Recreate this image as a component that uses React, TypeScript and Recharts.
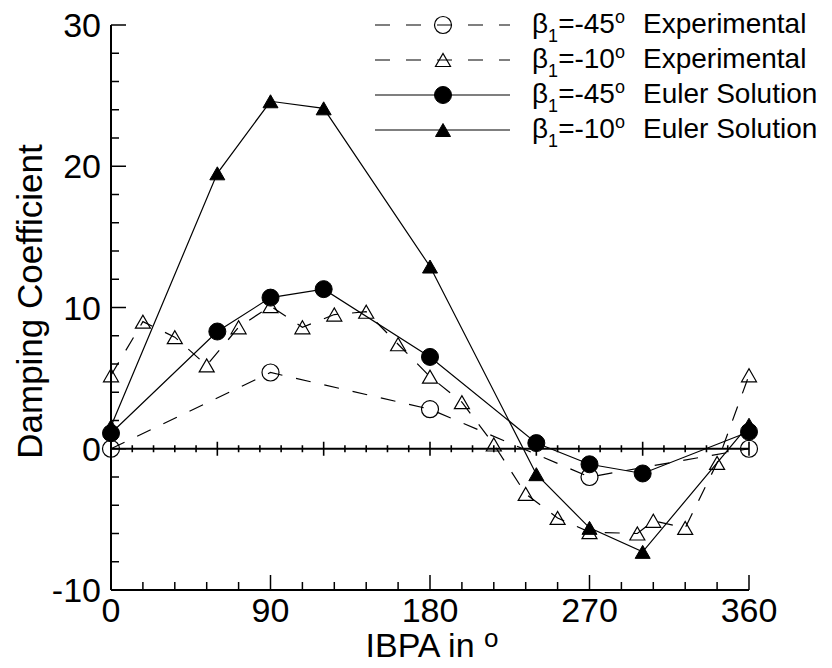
import React from 'react';
import { ComposedChart, Line, XAxis, YAxis, Legend, Label } from 'recharts';

const FONT = '"Liberation Sans", Arial, Helvetica, sans-serif';

// values: IBPA in degrees, damping coefficient
const ibpaExp45 = [0, 90, 180, 270, 360];
const dampExp45 = [0, 5.4, 2.8, -2.0, 0];

const ibpaExp10 = [0, 18, 36, 54, 72, 90, 108, 126, 144, 162, 180, 198, 216, 234, 252, 270, 297, 306, 324, 342, 360];
const dampExp10 = [5.2, 9.0, 7.9, 5.9, 8.6, 10.1, 8.6, 9.5, 9.7, 7.4, 5.1, 3.3, 0.3, -3.2, -4.9, -5.9, -6.0, -5.1, -5.6, -1.0, 5.2];

const ibpaEuler = [0, 60, 90, 120, 180, 240, 270, 300, 360];
const dampEuler45 = [1.1, 8.3, 10.7, 11.3, 6.5, 0.4, -1.1, -1.75, 1.2];
const dampEuler10 = [1.6, 19.5, 24.6, 24.1, 12.9, -1.8, -5.6, -7.3, 1.7];

// axis ticks
const xTicks = [0, 18, 36, 54, 72, 90, 108, 126, 144, 162, 180, 198, 216, 234, 252, 270, 288, 306, 324, 342, 360];
const xMajor = [0, 90, 180, 270, 360];
const yTicks = [-10, -8, -6, -4, -2, 0, 2, 4, 6, 8, 10, 12, 14, 16, 18, 20, 22, 24, 26, 28, 30];
const yMajor = [-10, 0, 10, 20, 30];
// the zero line carries its own crossing ticks
const midTicks = [0, 12, 24, 36, 48, 60, 72, 84, 96, 108, 120, 132, 144, 156, 168, 180, 192, 204, 216, 228, 240, 252, 264, 276, 288, 300, 312, 324, 336, 348, 360];
const midMajor = [0, 60, 120, 180, 240, 300, 360];

const zip = (xs: number[], ys: number[]) => xs.map((x, i) => ({ x, y: ys[i] }));

type MarkerKind = 'openCircle' | 'openTri' | 'filledCircle' | 'filledTri';

const SERIES: { name: string; beta: string; kind: string; marker: MarkerKind; dashed: boolean; data: { x: number; y: number }[] }[] = [
  { name: 'exp45', beta: '45', kind: 'Experimental', marker: 'openCircle', dashed: true, data: zip(ibpaExp45, dampExp45) },
  { name: 'exp10', beta: '10', kind: 'Experimental', marker: 'openTri', dashed: true, data: zip(ibpaExp10, dampExp10) },
  { name: 'euler45', beta: '45', kind: 'Euler Solution', marker: 'filledCircle', dashed: false, data: zip(ibpaEuler, dampEuler45) },
  { name: 'euler10', beta: '10', kind: 'Euler Solution', marker: 'filledTri', dashed: false, data: zip(ibpaEuler, dampEuler10) },
];

function Marker({ kind, cx, cy }: { kind: MarkerKind; cx?: number; cy?: number }) {
  if (cx == null || cy == null) return null;
  const tri = `M${cx - 7.5},${cy + 6.5}L${cx + 7.5},${cy + 6.5}L${cx},${cy - 6.5}Z`;
  switch (kind) {
    case 'openCircle':
      return <circle cx={cx} cy={cy} r={8.5} fill="none" stroke="#000" strokeWidth={1.2} />;
    case 'filledCircle':
      return <circle cx={cx} cy={cy} r={8.5} fill="#000" stroke="#000" strokeWidth={1} />;
    case 'openTri':
      return <path d={tri} fill="none" stroke="#000" strokeWidth={1.2} />;
    default:
      return <path d={tri} fill="#000" stroke="#000" strokeWidth={1} />;
  }
}

function Stub({ cx, cy, len }: any) {
  if (cx == null || cy == null || isNaN(cx) || isNaN(cy)) return null;
  return <path d={`M${cx},${cy - len}L${cx},${cy + len}`} stroke="#000" strokeWidth={1.6} fill="none" />;
}

const XTick = (props: any) => {
  const { x, y, payload } = props;
  const major = xMajor.includes(payload.value);
  return (
    <g>
      <line x1={x} y1={y} x2={x} y2={y - (major ? 15 : 8)} stroke="#000" strokeWidth={1.5} />
      {major && (
        <text x={x} y={y + 32} textAnchor="middle" fontSize={34} fontFamily={FONT} fill="#000">
          {payload.value}
        </text>
      )}
    </g>
  );
};

const YTick = (props: any) => {
  const { x, y, payload } = props;
  const major = yMajor.includes(payload.value);
  return (
    <g>
      <line x1={x} y1={y} x2={x + (major ? 15 : 8)} y2={y} stroke="#000" strokeWidth={1.5} />
      {major && (
        <text x={x - 10} y={y + 12} textAnchor="end" fontSize={34} fontFamily={FONT} fill="#000">
          {payload.value}
        </text>
      )}
    </g>
  );
};

const YTitle = (props: any) => {
  const { x, y, height } = props.viewBox;
  return (
    <text transform={`translate(${x + 42},${y + height / 2 - 6}) rotate(-90)`} textAnchor="middle"
      fontSize={35} fontFamily={FONT} fill="#000">
      Damping Coefficient
    </text>
  );
};

const XTitle = (props: any) => {
  const { x, y, width } = props.viewBox;
  return (
    <text x={x + width / 2 + 2} y={y + 67} textAnchor="middle" fontSize={34} fontFamily={FONT} fill="#000">
      <tspan>IBPA in </tspan>
      <tspan fontSize={26} dy={-10}>o</tspan>
    </text>
  );
};

const LegendBox = () => (
  <svg width={472} height={150} style={{ display: 'block' }}>
    {SERIES.map((s, i) => {
      const cy = 25 + i * 35;
      return (
        <g key={s.name}>
          <line x1={15} x2={150} y1={cy} y2={cy} stroke="#000" strokeWidth={1.2}
            strokeDasharray={s.dashed ? '15 16' : undefined} />
          <Marker kind={s.marker} cx={83} cy={cy} />
          <text x={172} y={cy + 8} fontFamily={FONT} fontSize={28} fill="#000">
            <tspan>β</tspan>
            <tspan fontSize={18} dy={9}>1</tspan>
            <tspan dy={-9}>{'=-' + s.beta}</tspan>
            <tspan fontSize={18} dy={-10}>o</tspan>
            <tspan x={283} dy={10}>{s.kind}</tspan>
          </text>
        </g>
      );
    })}
  </svg>
);

export default function App() {
  const zeroLine = midTicks.map((x) => ({ x, y: 0 }));
  return (
    <div style={{ position: 'absolute', left: 0, top: 0, width: 832, height: 668, background: '#fff' }}>
      <ComposedChart width={832} height={668} margin={{ top: 25, right: 83, bottom: 0, left: 0 }}
        style={{ fontFamily: FONT }}>
        <XAxis dataKey="x" type="number" domain={[0, 360]} ticks={xTicks} interval={0}
          tick={<XTick />} tickLine={false} tickSize={0} tickMargin={0} height={78}
          axisLine={{ stroke: '#000', strokeWidth: 2 }}>
          <Label content={<XTitle />} />
        </XAxis>
        <YAxis dataKey="y" type="number" domain={[-10, 30]} ticks={yTicks} interval={0}
          tick={<YTick />} tickLine={false} tickSize={0} tickMargin={0} width={111}
          axisLine={{ stroke: '#000', strokeWidth: 2 }}>
          <Label content={<YTitle />} />
        </YAxis>
        {/* zero line with crossing ticks */}
        <Line data={zeroLine} dataKey="y" type="linear" stroke="#000" strokeWidth={2}
          dot={(p: any) => (
            <Stub key={`mid-${p.index}`} cx={p.cx} cy={p.cy}
              len={midMajor.includes(midTicks[p.index]) ? 7 : 3.5} />
          )}
          activeDot={false} isAnimationActive={false} legendType="none" />
        {SERIES.map((s) => (
          <Line key={s.name} data={s.data} dataKey="y" type="linear" stroke="#000" strokeWidth={1.2}
            strokeDasharray={s.dashed ? '15 14' : undefined}
            dot={(p: any) => <Marker key={`${s.name}-${p.index}`} kind={s.marker} cx={p.cx} cy={p.cy} />}
            activeDot={false} isAnimationActive={false} />
        ))}
        <Legend layout="vertical" align="center" verticalAlign="middle" content={<LegendBox />}
          wrapperStyle={{ left: 360, top: 0, width: 472, height: 150 }} />
      </ComposedChart>
    </div>
  );
}
